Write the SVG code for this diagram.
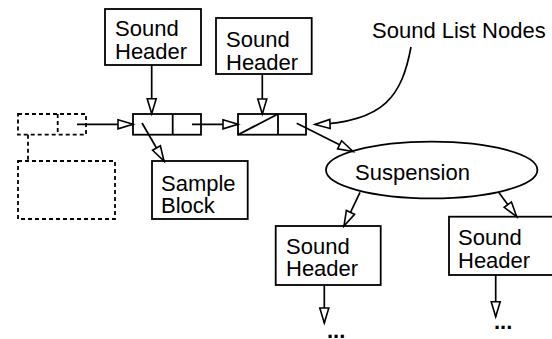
<svg xmlns="http://www.w3.org/2000/svg" width="552" height="339" viewBox="0 0 552 339">
  <style>
    .box { fill: #fff; stroke: #000; stroke-width: 1.8; }
    .dash { fill: none; stroke: #000; stroke-width: 1.8; stroke-dasharray: 4 3; }
    .cell { fill: none; stroke: #000; stroke-width: 1.8; }
    .wire { fill: none; stroke: #000; stroke-width: 1.7; marker-end: url(#hollow); }
    text { font-family: "Liberation Sans", Arial, Helvetica, sans-serif; font-size: 22px; fill: #000; }
    .dots { font-weight: bold; }
  </style>
  <defs>
    <marker id="hollow" markerUnits="userSpaceOnUse" markerWidth="18" markerHeight="12" refX="15" refY="4.5" orient="auto" overflow="visible">
      <path d="M0,0 L15,4.5 L0,9 Z" fill="#fff" stroke="#000" stroke-width="1.6" stroke-linejoin="miter"/>
    </marker>
  </defs>

  <rect width="552" height="339" fill="#fff"/>

  <!-- previous list node (dashed, outside the list) and its block -->
  <g id="prev-node">
    <rect class="dash" x="18" y="114" width="68" height="20.7"/>
    <line class="dash" x1="57.7" y1="114" x2="57.7" y2="134.7"/>
    <line class="dash" x1="28" y1="134.7" x2="28" y2="161"/>
    <rect class="dash" x="18" y="161" width="97" height="58"/>
  </g>

  <!-- first sound list node -->
  <g id="node1">
    <rect class="cell" x="133" y="114" width="68" height="20.7"/>
    <line class="cell" x1="172.7" y1="114" x2="172.7" y2="134.7"/>
  </g>

  <!-- second sound list node (empty block pointer) -->
  <g id="node2">
    <rect class="cell" x="238" y="114" width="68" height="20.7"/>
    <line class="cell" x1="278" y1="114" x2="278" y2="134.7"/>
    <line class="cell" x1="238" y1="134.7" x2="278" y2="114"/>
  </g>

  <g id="header1">
    <rect class="box" x="105" y="9" width="96" height="56"/>
    <text x="115" y="36">Sound</text>
    <text x="115" y="59">Header</text>
  </g>

  <g id="header2">
    <rect class="box" x="216" y="18" width="95.7" height="56"/>
    <text x="226" y="47">Sound</text>
    <text x="226" y="69.5">Header</text>
  </g>

  <g id="sample-block">
    <rect class="box" x="152" y="161" width="95.7" height="58"/>
    <text x="161" y="191">Sample</text>
    <text x="161" y="212.5">Block</text>
  </g>

  <g id="label">
    <text x="372" y="38">Sound List Nodes</text>
  </g>

  <g id="suspension">
    <ellipse class="box" cx="431.7" cy="170" rx="105.7" ry="28.3"/>
    <text x="355" y="180">Suspension</text>
  </g>

  <g id="header3">
    <rect class="box" x="275.7" y="226" width="105" height="59"/>
    <text x="286" y="254">Sound</text>
    <text x="286" y="276">Header</text>
  </g>

  <g id="header4">
    <rect class="box" x="449" y="216.7" width="110" height="58.3"/>
    <text x="458" y="245">Sound</text>
    <text x="458" y="267.5">Header</text>
  </g>

  <g id="more">
    <text class="dots" x="327" y="337.5">...</text>
    <text class="dots" x="494" y="329">...</text>
  </g>

  <!-- connectors -->
  <g id="connectors">
    <line class="wire" x1="151.7" y1="65" x2="151.7" y2="113.7"/>
    <line class="wire" x1="262.3" y1="74" x2="262.3" y2="114"/>
    <line class="wire" x1="77" y1="124.3" x2="133" y2="124.3"/>
    <line class="wire" x1="192" y1="124.3" x2="238" y2="124.3"/>
    <line class="wire" x1="142" y1="123" x2="164" y2="161"/>
    <line class="wire" x1="296.7" y1="123.3" x2="353" y2="151.5"/>
    <path class="wire" d="M411,47 C402,95 385,122 315,124.5"/>
    <line class="wire" x1="360" y1="192.3" x2="344" y2="226"/>
    <line class="wire" x1="498.3" y1="191.7" x2="516.7" y2="216.7"/>
    <line class="wire" x1="324.3" y1="285" x2="324.3" y2="323"/>
    <line class="wire" x1="495.7" y1="275" x2="495.7" y2="316.7"/>
  </g>
</svg>
